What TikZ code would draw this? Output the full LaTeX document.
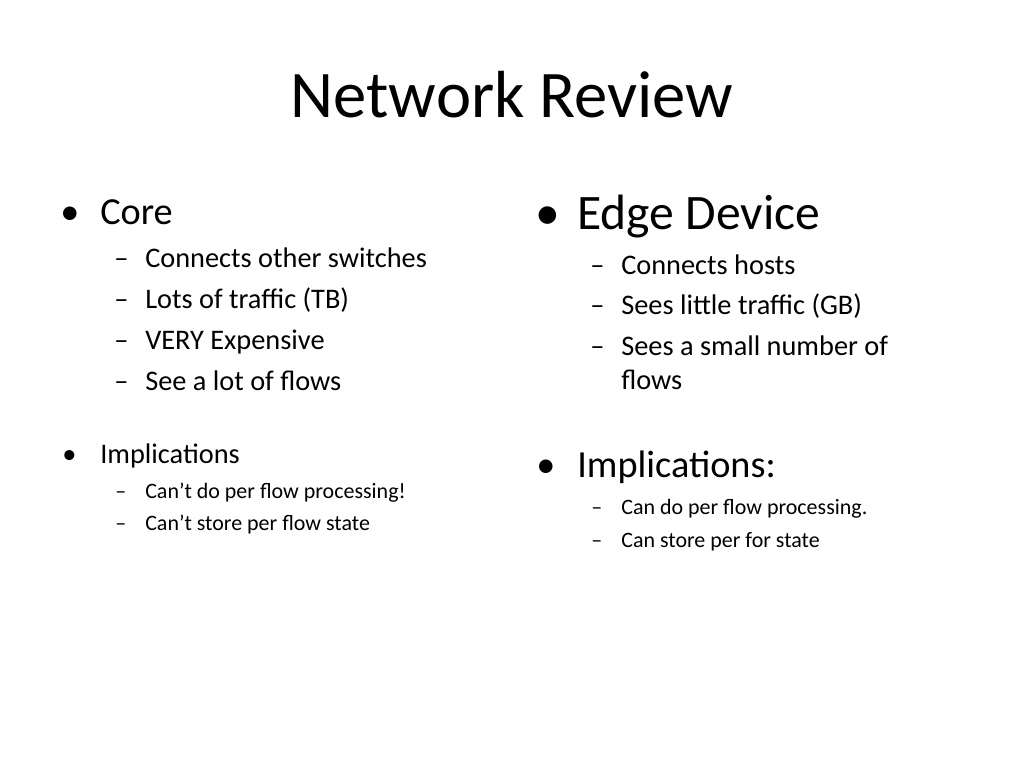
\documentclass[tikz,border=0pt]{standalone}
\usepackage{fontspec}
\setmainfont{Carlito}
\tikzset{
  txt/.style={anchor=base west, inner sep=0pt},
  lvla/.style={txt, font=\fontsize{27}{27}\selectfont},
  lvlb/.style={txt, font=\fontsize{20}{20}\selectfont},
  lvlc/.style={txt, font=\fontsize{15.5}{15.5}\selectfont},
  big/.style={txt, font=\fontsize{35}{35}\selectfont}
}
\begin{document}
\begin{tikzpicture}[x=0.0248cm, y=-0.0248cm]
\useasboundingbox (0,0) rectangle (1024,768);
% title
\node[anchor=base, inner sep=0pt, font=\fontsize{47}{47}\selectfont] (title) at (512,118) {Network Review};
% left column
\node[lvla] (bcore) at (60,224) {•};
\node[lvla] (core) at (100,224) {Core};
\node[lvlb] (d1) at (114,267) {–};
\node[lvlb] (l1) at (145,267) {Connects other switches};
\node[lvlb] (d2) at (114,308) {–};
\node[lvlb] (l2) at (145,308) {Lots of traffic (TB)};
\node[lvlb] (d3) at (114,349) {–};
\node[lvlb] (l3) at (145,349) {VERY Expensive};
\node[lvlb] (d4) at (114,390) {–};
\node[lvlb] (l4) at (145,390) {See a lot of flows};
\node[lvlb] (bimp) at (62,463) {•};
\node[lvlb] (imp) at (100,463) {Implications};
\node[lvlc] (d5) at (115,498) {–};
\node[lvlc] (l5) at (145,498) {Can’t do per flow processing!};
\node[lvlc] (d6) at (115,530) {–};
\node[lvlc] (l6) at (145,530) {Can’t store per flow state};
% right column
\node[big] (bedge) at (535,229) {•};
\node[big] (edge) at (577,229) {Edge Device};
\node[lvlb] (e1d) at (590,274) {–};
\node[lvlb] (e1) at (621,274) {Connects hosts};
\node[lvlb] (e2d) at (590,314) {–};
\node[lvlb] (e2) at (621,314) {Sees little traffic (GB)};
\node[lvlb] (e3d) at (590,355) {–};
\node[lvlb] (e3) at (621,355) {Sees a small number of};
\node[lvlb] (e3b) at (621,389) {flows};
\node[lvla] (bimp2) at (536,477) {•};
\node[lvla] (imp2) at (577,477) {Implications:};
\node[lvlc] (e4d) at (591,514) {–};
\node[lvlc] (e4) at (621,514) {Can do per flow processing.};
\node[lvlc] (e5d) at (591,547) {–};
\node[lvlc] (e5) at (621,547) {Can store per for state};
\end{tikzpicture}
\end{document}
